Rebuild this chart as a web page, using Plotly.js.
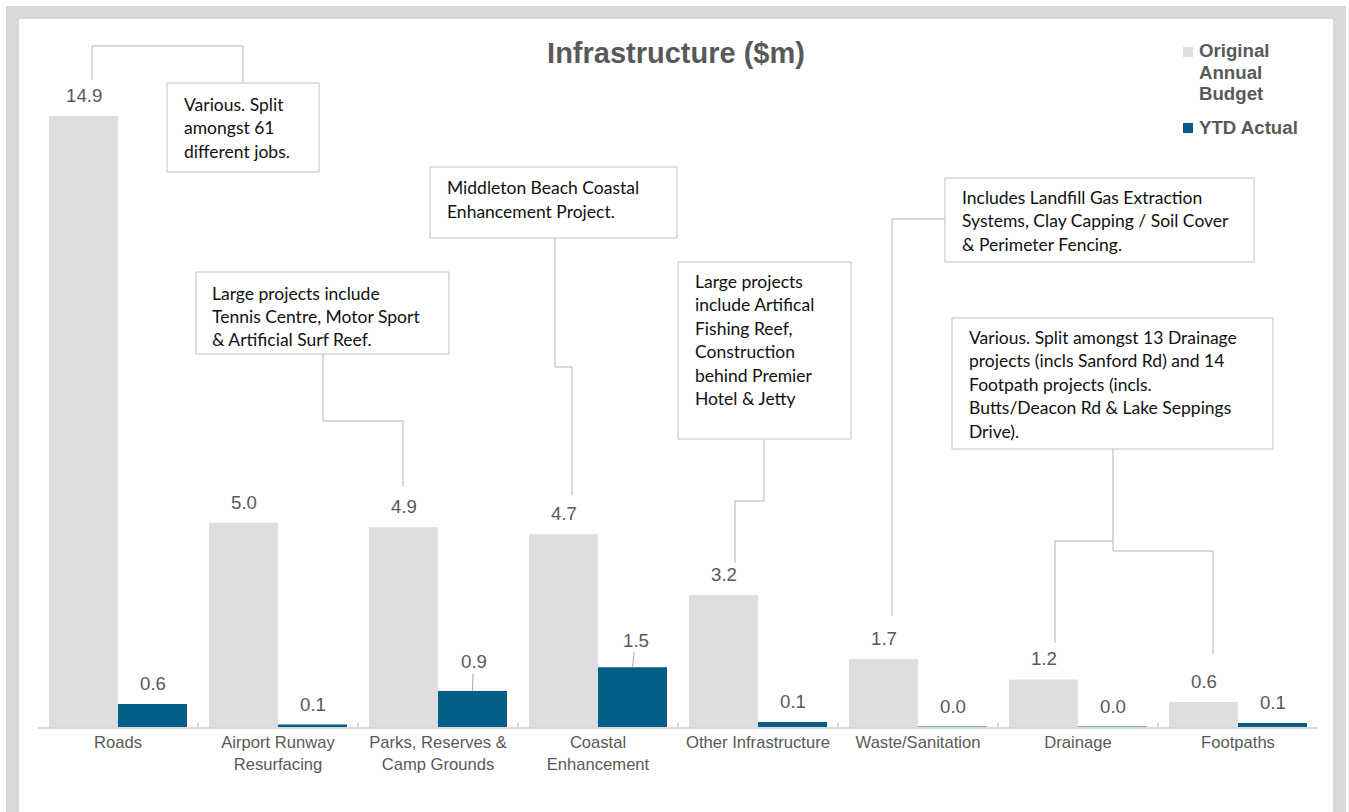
<!DOCTYPE html>
<html><head><meta charset="utf-8">
<script src="https://cdn.plot.ly/plotly-3.0.1.min.js"></script>
<style>
html,body{margin:0;padding:0;background:#fff;overflow:hidden;}
#frame{position:absolute;left:6px;top:6px;width:1340px;height:840px;border:13px solid #d9d9d9;box-sizing:border-box;}
#chart{position:absolute;left:0;top:0;width:1349px;height:812px;}
</style></head><body>
<div id="frame"></div>
<div id="chart"></div>
<script>
// ---- data ----
const categories = ['Roads', 'Airport Runway<br>Resurfacing', 'Parks, Reserves &<br>Camp Grounds', 'Coastal<br>Enhancement', 'Other Infrastructure', 'Waste/Sanitation', 'Drainage', 'Footpaths'];
const originalBudget = [14.9, 4.98, 4.87, 4.7, 3.22, 1.66, 1.16, 0.61];
const ytdActual = [0.56, 0.06, 0.88, 1.46, 0.12, 0.01, 0.01, 0.1];
const seriesNames = ['Original Annual Budget', 'YTD Actual'];
const legendLines = [['Original', 'Annual', 'Budget'], ['YTD Actual']];
const chartTitle = 'Infrastructure ($m)';
const calloutTexts = [
  ['Various. Split', 'amongst 61', 'different jobs.'],
  ['Large projects include', 'Tennis Centre, Motor Sport', '& Artificial Surf Reef.'],
  ['Middleton Beach Coastal', 'Enhancement Project.'],
  ['Large projects', 'include Artifical', 'Fishing Reef,', 'Construction', 'behind Premier', 'Hotel & Jetty'],
  ['Includes Landfill Gas Extraction', 'Systems, Clay Capping / Soil Cover', '& Perimeter Fencing.'],
  ['Various. Split amongst 13 Drainage', 'projects (incls Sanford Rd) and 14', 'Footpath projects (incls.', 'Butts/Deacon Rd & Lake Seppings', 'Drive).']
];

// ---- styling / layout helpers ----
const GREY = '#dedede', BLUE = '#035d86', TXT = '#595959', LEAD = '#b4b4b4';
const L = 38, R = 1318, T = 40, B = 727;
const px = x => (x - L) / (R - L);
const py = y => (B - y) / (B - T);
const bargap = 0.1375;
const off = (1 - bargap) / 4;
const scale = 41.0; // px per unit
const yMax = (B - T) / scale;

// callout geometry (pixels): box, text left, first line centre, line step
const calloutGeom = [
  {box: [167, 83, 319, 172], tx: 182, ty: 104, step: 23.5},
  {box: [196, 272, 449, 354], tx: 210, ty: 293, step: 23.3},
  {box: [430, 167, 677, 238], tx: 445, ty: 187, step: 24},
  {box: [678, 262, 851, 439], tx: 693, ty: 281, step: 23.5},
  {box: [945, 178, 1254, 262], tx: 960, ty: 197, step: 23.5},
  {box: [952, 318, 1273, 449], tx: 967, ty: 337, step: 23.5}
];
const leaderPaths = [
  [[92, 80], [92, 46], [243, 46], [243, 83]],
  [[323, 354], [323, 421], [403, 421], [403, 487]],
  [[555, 238], [555, 367], [572, 367], [572, 495]],
  [[764, 440], [764, 501], [735, 501], [735, 563]],
  [[945, 219], [892, 219], [892, 616]],
  [[1113, 449], [1113, 551], [1213, 551], [1213, 654]],
  [[1113, 541], [1055, 541], [1055, 643]]
];

const traces = [
  {type: 'bar', name: seriesNames[0], x: categories, y: originalBudget, marker: {color: GREY}, hoverinfo: 'x+y'},
  {type: 'bar', name: seriesNames[1], x: categories, y: ytdActual, marker: {color: BLUE}, hoverinfo: 'x+y'}
];

const annotations = [];
const shapes = [];
const labelFont = {family: 'Liberation Sans, Arial, sans-serif', size: 18.67, color: TXT};

originalBudget.forEach((v, i) => {
  annotations.push({x: i - off, y: v, xref: 'x', yref: 'y', text: v.toFixed(1), showarrow: false,
    yanchor: 'bottom', yshift: 8, font: labelFont});
});
ytdActual.forEach((v, i) => {
  const a = {x: i + off, y: v, xref: 'x', yref: 'y', text: v.toFixed(1), font: labelFont};
  if (i === 2) {
    Object.assign(a, {showarrow: true, arrowhead: 0, arrowwidth: 1, arrowcolor: '#a6a6a6', ax: 1, ay: -29.5, standoff: 0});
  } else if (i === 3) {
    Object.assign(a, {showarrow: true, arrowhead: 0, arrowwidth: 1, arrowcolor: '#a6a6a6', ax: 3, ay: -27, standoff: 0});
  } else {
    Object.assign(a, {showarrow: false, yanchor: 'bottom', yshift: 8});
  }
  annotations.push(a);
});

// leader lines
leaderPaths.forEach(p => {
  const d = p.map((pt, k) => (k ? 'L' : 'M') + px(pt[0]).toFixed(5) + ',' + py(pt[1]).toFixed(5)).join(' ');
  shapes.push({type: 'path', xref: 'paper', yref: 'paper', path: d, line: {color: LEAD, width: 1}, layer: 'above'});
});
// callout boxes and texts
calloutGeom.forEach((g, k) => {
  shapes.push({type: 'rect', xref: 'paper', yref: 'paper', x0: px(g.box[0]), x1: px(g.box[2]), y0: py(g.box[1]), y1: py(g.box[3]),
    fillcolor: '#ffffff', line: {color: '#bfbfbf', width: 1}, layer: 'above'});
  calloutTexts[k].forEach((line, j) => {
    annotations.push({xref: 'paper', yref: 'paper', x: px(g.tx), y: py(g.ty + j * g.step), xanchor: 'left', yanchor: 'middle',
      text: line, showarrow: false, font: {family: 'Lato, Carlito, Calibri, sans-serif', size: 17.5, color: '#111111'}});
  });
});
// manual legend
const legendGeom = [{sq: [1183, 47, 1193, 57], tx: 1197, ty: 50.5, step: 21.6}, {sq: [1183, 123, 1193, 133], tx: 1197, ty: 127.5, step: 21.6}];
const legendColors = [GREY, BLUE];
legendGeom.forEach((g, k) => {
  shapes.push({type: 'rect', xref: 'paper', yref: 'paper', x0: px(g.sq[0]), x1: px(g.sq[2]), y0: py(g.sq[1]), y1: py(g.sq[3]),
    fillcolor: legendColors[k], line: {width: 0}});
  legendLines[k].forEach((line, j) => {
    annotations.push({xref: 'paper', yref: 'paper', x: px(g.tx), y: py(g.ty + j * g.step), xanchor: 'left', yanchor: 'middle',
      text: '<b>' + line + '</b>', showarrow: false, font: {family: 'Liberation Sans, Arial, sans-serif', size: 18.67, color: TXT}});
  });
});

const layout = {
  width: 1349, height: 812,
  margin: {l: L, r: 1349 - R, t: T, b: 812 - B, pad: 0},
  paper_bgcolor: 'rgba(0,0,0,0)', plot_bgcolor: 'rgba(0,0,0,0)',
  barmode: 'group', bargap: bargap, bargroupgap: 0,
  showlegend: false,
  title: {text: '<b>' + chartTitle + '</b>', xref: 'container', yref: 'container', x: 676 / 1349, y: 1 - 53 / 812,
    xanchor: 'center', yanchor: 'middle', font: {family: 'Liberation Sans, Arial, sans-serif', size: 29, color: TXT}},
  xaxis: {type: 'category', range: [-0.5, 7.5], tickson: 'boundaries', ticks: 'inside', ticklen: 4, tickwidth: 1.3,
    tickcolor: '#d9d9d9', showline: true, linecolor: '#d9d9d9', linewidth: 1.5, showgrid: false, zeroline: false,
    tickfont: {family: 'Liberation Sans, Arial, sans-serif', size: 16.6, color: TXT}, fixedrange: true},
  yaxis: {visible: false, range: [0, yMax], fixedrange: true, showgrid: false, zeroline: false},
  annotations: annotations,
  shapes: shapes
};

Plotly.newPlot('chart', traces, layout, {displayModeBar: false, staticPlot: true});
</script>
</body></html>
